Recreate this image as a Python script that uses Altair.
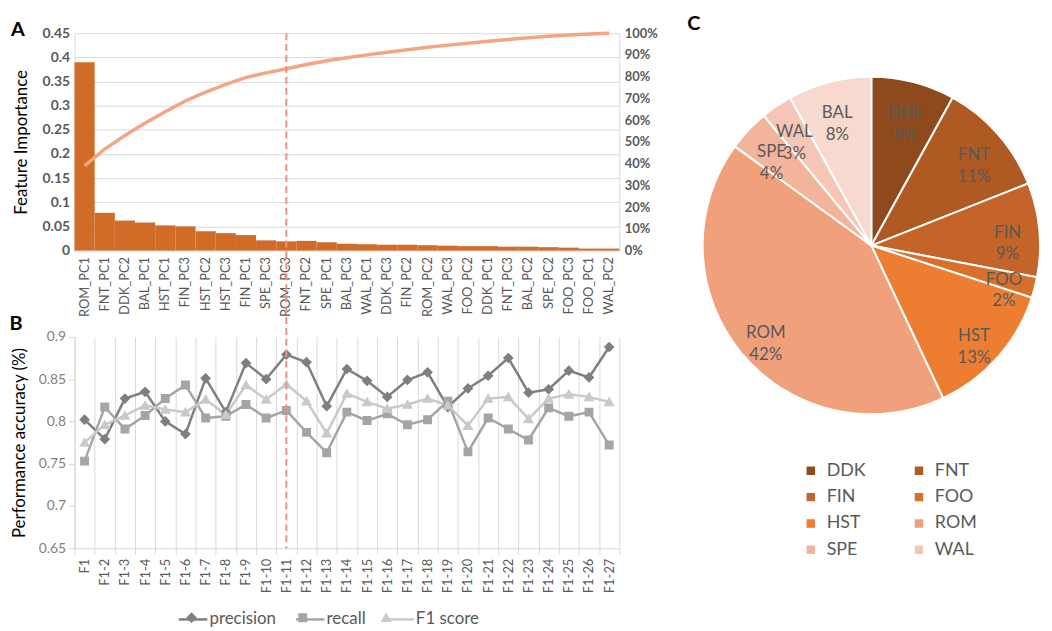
import altair as alt
import pandas as pd

# ---------------- data ----------------
features = ["ROM_PC1", "FNT_PC1", "DDK_PC2", "BAL_PC1", "HST_PC1", "FIN_PC3", "HST_PC2",
            "HST_PC3", "FIN_PC1", "SPE_PC3", "ROM_PC3", "FNT_PC2", "SPE_PC1", "BAL_PC3",
            "WAL_PC1", "DDK_PC3", "FIN_PC2", "ROM_PC2", "WAL_PC3", "FOO_PC2", "DDK_PC1",
            "FNT_PC3", "BAL_PC2", "SPE_PC2", "FOO_PC3", "FOO_PC1", "WAL_PC2"]
importance = [0.390, 0.078, 0.062, 0.058, 0.052, 0.050, 0.040, 0.036, 0.032, 0.021,
              0.019, 0.020, 0.017, 0.014, 0.013, 0.012, 0.012, 0.011, 0.010, 0.009,
              0.009, 0.008, 0.008, 0.007, 0.006, 0.004, 0.004]

steps = ["F1", "F1-2", "F1-3", "F1-4", "F1-5", "F1-6", "F1-7", "F1-8", "F1-9", "F1-10",
         "F1-11", "F1-12", "F1-13", "F1-14", "F1-15", "F1-16", "F1-17", "F1-18", "F1-19",
         "F1-20", "F1-21", "F1-22", "F1-23", "F1-24", "F1-25", "F1-26", "F1-27"]
cut_step = ["F1-11"]
precision = [0.802, 0.779, 0.827, 0.835, 0.800, 0.785, 0.851, 0.811, 0.869, 0.850,
             0.879, 0.870, 0.818, 0.862, 0.848, 0.829, 0.849, 0.858, 0.817, 0.839,
             0.854, 0.875, 0.834, 0.838, 0.860, 0.852, 0.888]
recall = [0.753, 0.817, 0.791, 0.807, 0.827, 0.843, 0.804, 0.806, 0.820, 0.804,
          0.813, 0.787, 0.763, 0.811, 0.801, 0.809, 0.796, 0.802, 0.824, 0.764,
          0.804, 0.791, 0.778, 0.816, 0.806, 0.811, 0.772]
f1score = [0.775, 0.796, 0.807, 0.819, 0.814, 0.811, 0.826, 0.808, 0.843, 0.826,
           0.844, 0.824, 0.786, 0.833, 0.823, 0.815, 0.820, 0.827, 0.819, 0.795,
           0.827, 0.829, 0.803, 0.827, 0.832, 0.829, 0.823]
series_names = ["precision", "recall", "F1 score"]
series_colors = ["#7F7F7F", "#A5A5A5", "#C9C9C9"]
# filled marker shapes; the zero-area horizontal segment only widens the symbol box so
# that the marker legend lines up with the line legend drawn under it
marker_paths = [
    "M-1.6,0L1.6,0M0,-0.6L0.6,0L0,0.6L-0.6,0Z",
    "M-1.6,0L1.6,0M-0.5,-0.5L0.5,-0.5L0.5,0.5L-0.5,0.5Z",
    "M-1.6,0L1.6,0M0,-0.6L0.62,0.48L-0.62,0.48Z",
]
legend_line_path = "M-1.6,0L1.6,0"

pie_names = ["DDK", "FNT", "FIN", "FOO", "HST", "ROM", "SPE", "WAL", "BAL"]
pie_pct = [8, 11, 9, 2, 13, 42, 4, 3, 8]
pie_colors = ["#8E4A1C", "#AE5A22", "#C46428", "#D8702C", "#ED7D31", "#F0A07A",
              "#F3B49C", "#F5C6B6", "#F8D9CF"]
pie_legend_names = ["DDK", "FNT", "FIN", "FOO", "HST", "ROM", "SPE", "WAL"]

importance_ticks = [0, 0.05, 0.1, 0.15, 0.2, 0.25, 0.3, 0.35, 0.4, 0.45]
cum_ticks = [0, 0.1, 0.2, 0.3, 0.4, 0.5, 0.6, 0.7, 0.8, 0.9, 1.0]
accuracy_ticks = [0.65, 0.7, 0.75, 0.8, 0.85, 0.9]
panel_letters = ["A", "B", "C"]

# ---------------- layout constants (page coords of the reference) ----------------
W = 549
HA = 219
GAP = 87
HB = 213
PLOT_LEFT, A_TOP = 75, 31
COL_GAP = 60
PIE_LEFT = 685                     # page x of the pie view origin (as rendered)
PIE_W = 300
CX, CY = 879 - PIE_LEFT, 245 - A_TOP
FONT = "Lato"
GRID = "#D9D9D9"
TXT = "#595959"
NOVIEW = alt.ViewBackground(stroke="transparent", strokeWidth=0)

# ---------------- panel A ----------------
df_a = pd.DataFrame({"feature": features, "importance": importance,
                     "idx": list(range(len(features)))})
base_a = alt.Chart(df_a)
x_a = alt.X("feature:N", sort=features,
            scale=alt.Scale(type="band", paddingInner=0, paddingOuter=0),
            axis=alt.Axis(title=None, labelAngle=-90, labelFontSize=13, labelColor=TXT,
                          ticks=False, domainColor=GRID, labelPadding=6))
bars = base_a.mark_bar(color="#D06B28").encode(
    x=x_a,
    y=alt.Y("importance:Q", scale=alt.Scale(domain=[0, 0.45], nice=False),
            axis=alt.Axis(values=importance_ticks, format="~g", title="Feature Importance",
                          titleFontSize=17, titleFontWeight="normal", titleColor="#000000",
                          titlePadding=12, labelFontSize=14, labelFontWeight="bold",
                          labelColor=TXT, grid=True, gridColor=GRID, domainColor=GRID,
                          ticks=False, labelPadding=5)),
)
cum_line = base_a.transform_window(
    cum="sum(importance)", sort=[alt.SortField("idx")], frame=[None, 0]
).transform_joinaggregate(total="sum(importance)").transform_calculate(
    share="datum.cum / datum.total"
).mark_line(color="#F4A582", strokeWidth=3.5).encode(
    x=x_a,
    y=alt.Y("share:Q", scale=alt.Scale(domain=[0, 1], nice=False),
            axis=alt.Axis(orient="right", values=cum_ticks, format=".0%", title=None,
                          grid=False, labelFontSize=13, labelFontWeight="bold",
                          labelColor=TXT, domainColor=GRID, ticks=False, labelPadding=5)),
)
letter_a = alt.Chart(pd.DataFrame({"t": [panel_letters[0]]})).mark_text(
    fontSize=20, fontWeight="bold", color="#000000", align="center", baseline="middle"
).encode(text="t:N", x=alt.value(18 - PLOT_LEFT), y=alt.value(28 - A_TOP))

panel_a = alt.layer(bars, cum_line, letter_a).resolve_scale(y="independent").properties(
    width=W, height=HA, view=NOVIEW)

# ---------------- panel B ----------------
df_b = pd.concat([
    pd.DataFrame({"step": steps, "series": series_names[0], "value": precision}),
    pd.DataFrame({"step": steps, "series": series_names[1], "value": recall}),
    pd.DataFrame({"step": steps, "series": series_names[2], "value": f1score}),
], ignore_index=True)
base_b = alt.Chart(df_b)
x_b = alt.X("step:N", sort=steps,
            scale=alt.Scale(type="band", paddingInner=0, paddingOuter=0),
            axis=alt.Axis(title=None, labelAngle=-90, labelFontSize=13, labelColor=TXT,
                          tickBand="extent", grid=True, gridColor=GRID, domainColor=GRID,
                          tickColor=GRID, tickSize=6, labelPadding=4))
y_b = alt.Y("value:Q", scale=alt.Scale(domain=[0.65, 0.9], nice=False),
            axis=alt.Axis(values=accuracy_ticks, format="~g", title="Performance accuracy (%)",
                          titleFontSize=17, titleFontWeight="normal", titleColor="#000000",
                          titlePadding=10, labelFontSize=14, labelColor="#7F7F7F",
                          grid=False, domainColor=GRID, tickColor=GRID, tickSize=6,
                          labelPadding=3))
B_TOP = A_TOP + HA + GAP
LEG_X, LEG_Y = 180 + 4 - PLOT_LEFT, 619 - B_TOP - 8
leg_common = dict(title=None, orient="none", legendX=LEG_X, legendY=LEG_Y,
                  direction="horizontal", labelFontSize=17, symbolSize=324,
                  columnPadding=14, labelOffset=6, padding=0)
lines_b = base_b.mark_line(strokeWidth=2.5).encode(
    x=x_b, y=y_b,
    color=alt.Color("series:N", scale=alt.Scale(domain=series_names, range=series_colors),
                    legend=alt.Legend(symbolType=legend_line_path, symbolStrokeWidth=2.5,
                                      labelColor=TXT, **leg_common)))
points_b = base_b.mark_point(filled=True, size=324, opacity=1, strokeWidth=0).encode(
    x=x_b, y=y_b,
    color=alt.Color("series:N", scale=alt.Scale(domain=series_names, range=series_colors),
                    legend=alt.Legend(labelOpacity=0, labelColor=TXT, symbolStrokeWidth=0,
                                      **leg_common)),
    shape=alt.Shape("series:N", scale=alt.Scale(domain=series_names, range=marker_paths),
                    legend=alt.Legend(labelOpacity=0, labelColor=TXT, symbolStrokeWidth=0,
                                      **leg_common)))
rule_b = alt.Chart(pd.DataFrame({"step": cut_step})).mark_rule(
    color="#E8937A", strokeDash=[7, 4], strokeWidth=2
).encode(x=alt.X("step:N", sort=steps), y=alt.value(-(HA + GAP)), y2=alt.value(HB))
letter_b = alt.Chart(pd.DataFrame({"t": [panel_letters[1]]})).mark_text(
    fontSize=20, fontWeight="bold", color="#000000", align="center", baseline="middle"
).encode(text="t:N", x=alt.value(16 - PLOT_LEFT), y=alt.value(324 - B_TOP))

panel_b = alt.layer(lines_b, points_b, rule_b, letter_b).resolve_scale(
    color="independent", shape="independent").properties(width=W, height=HB, view=NOVIEW)

# ---------------- panel C ----------------
df_c = pd.DataFrame({
    "name": pie_names,
    "pct": pie_pct,
    "idx": list(range(len(pie_names))),
    "label": [f"{n}\n{p}%" for n, p in zip(pie_names, pie_pct)],
})
base_c = alt.Chart(df_c)
arcs = base_c.mark_arc(outerRadius=170, stroke="white", strokeWidth=2).encode(
    theta=alt.Theta("pct:Q", stack=True),
    order=alt.Order("idx:Q"),
    color=alt.Color("name:N", scale=alt.Scale(domain=pie_names, range=pie_colors),
                    legend=alt.Legend(title=None, orient="none", legendX=814 - 5 - PIE_LEFT,
                                      legendY=432, columns=2, direction="horizontal",
                                      values=pie_legend_names, symbolType="square",
                                      symbolSize=100, labelFontSize=18, labelColor=TXT,
                                      columnPadding=44, rowPadding=8.5, labelOffset=7,
                                      padding=0)),
    x=alt.value(CX), y=alt.value(CY),
)
labels_c = base_c.mark_text(radius=138, lineBreak="\n", fontSize=17, color=TXT,
                            lineHeight=22).encode(
    theta=alt.Theta("pct:Q", stack=True),
    order=alt.Order("idx:Q"),
    text="label:N",
    x=alt.value(CX), y=alt.value(CY),
)
letter_c = alt.Chart(pd.DataFrame({"t": [panel_letters[2]]})).mark_text(
    fontSize=20, fontWeight="bold", color="#000000", align="center", baseline="middle"
).encode(text="t:N", x=alt.value(700 - PIE_LEFT), y=alt.value(22 - A_TOP))

panel_c = alt.layer(arcs, labels_c, letter_c).properties(width=PIE_W, height=HA, view=NOVIEW)

chart = alt.ConcatChart(
    concat=[panel_a, panel_c, panel_b], columns=2, bounds="flush",
    spacing={"row": GAP, "column": COL_GAP},
).resolve_scale(color="independent", shape="independent").properties(
    padding={"left": 1, "top": 4, "right": 0, "bottom": 0}
).configure_view(strokeWidth=0, stroke="transparent").configure(font=FONT)

chart.save("out.html", embed_options={"renderer": "svg", "actions": False})
